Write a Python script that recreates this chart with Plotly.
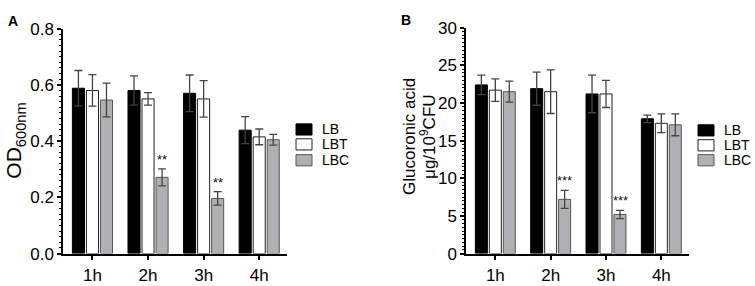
import plotly.graph_objects as go

categories = ["1h", "2h", "3h", "4h"]
series_names = ["LB", "LBT", "LBC"]

# Panel A: OD600nm
od_lb = [0.588, 0.580, 0.570, 0.439]
od_lb_err = [0.063, 0.052, 0.065, 0.048]
od_lbt = [0.580, 0.550, 0.550, 0.415]
od_lbt_err = [0.056, 0.022, 0.065, 0.028]
od_lbc = [0.546, 0.271, 0.196, 0.405]
od_lbc_err = [0.060, 0.030, 0.024, 0.019]
od_sig = ["", "**", "**", ""]

# Panel B: Glucoronic acid
ga_lb = [22.4, 21.9, 21.2, 17.9]
ga_lb_err = [1.3, 2.2, 2.5, 0.5]
ga_lbt = [21.7, 21.5, 21.2, 17.3]
ga_lbt_err = [1.5, 2.9, 1.8, 1.25]
ga_lbc = [21.5, 7.2, 5.2, 17.1]
ga_lbc_err = [1.4, 1.2, 0.55, 1.45]
ga_sig = ["", "***", "***", ""]

FONT = "Liberation Sans, Arial, sans-serif"
W, H = 755, 286
fills = ["#000000", "#ffffff", "#b0b0b4"]
lines = ["#000000", "#222222", "#555555"]

fig = go.Figure()

panelA = [(od_lb, od_lb_err), (od_lbt, od_lbt_err), (od_lbc, od_lbc_err)]
panelB = [(ga_lb, ga_lb_err), (ga_lbt, ga_lbt_err), (ga_lbc, ga_lbc_err)]

for i, (vals, errs) in enumerate(panelA):
    fig.add_trace(go.Bar(
        x=categories, y=vals, name=series_names[i], xaxis="x", yaxis="y",
        marker=dict(color=fills[i], line=dict(color=lines[i], width=1)),
        error_y=dict(type="data", array=errs, color="#444444", thickness=1.3, width=4),
        showlegend=False,
    ))
for i, (vals, errs) in enumerate(panelB):
    fig.add_trace(go.Bar(
        x=categories, y=vals, name=series_names[i], xaxis="x2", yaxis="y2",
        marker=dict(color=fills[i], line=dict(color=lines[i], width=1)),
        error_y=dict(type="data", array=errs, color="#444444", thickness=1.3, width=4),
        showlegend=False,
    ))

annotations = []
shapes = []
for cat, v, e, s in zip(categories, od_lbc, od_lbc_err, od_sig):
    if s:
        annotations.append(dict(x=cat, y=v + e, xref="x", yref="y", text=s, showarrow=False,
                                xshift=14, yanchor="bottom", yshift=0,
                                font=dict(family=FONT, size=13, color="#111")))
for cat, v, e, s in zip(categories, ga_lbc, ga_lbc_err, ga_sig):
    if s:
        annotations.append(dict(x=cat, y=v + e, xref="x2", yref="y2", text=s, showarrow=False,
                                xshift=14, yanchor="bottom", yshift=0,
                                font=dict(family=FONT, size=13, color="#111")))

# legends (one per panel), drawn as swatches + labels
for lx, row_ys in [(296, [129, 145, 162]), (698, [130, 146, 162])]:
    for i, ry in enumerate(row_ys):
        shapes.append(dict(type="rect", xref="paper", yref="paper",
                           x0=lx / W, x1=(lx + 16) / W, y0=1 - (ry + 6) / H, y1=1 - (ry - 6) / H,
                           fillcolor=fills[i], line=dict(color=lines[i], width=1)))
        annotations.append(dict(x=(lx + 24) / W, y=1 - ry / H, xref="paper", yref="paper",
                                text=series_names[i], showarrow=False, xanchor="left",
                                yanchor="middle",
                                font=dict(family=FONT, size=14, color="black")))

annotations.append(dict(x=13 / W, y=1 - 13 / H, xref="paper", yref="paper", text="<b>A</b>",
                        showarrow=False, xanchor="center", yanchor="middle",
                        font=dict(family=FONT, size=14, color="black")))
annotations.append(dict(x=406 / W, y=1 - 12 / H, xref="paper", yref="paper", text="<b>B</b>",
                        showarrow=False, xanchor="center", yanchor="middle",
                        font=dict(family=FONT, size=14, color="black")))
annotations.append(dict(x=15 / W, y=1 - 141 / H, xref="paper", yref="paper",
                        text="OD<sub>600nm</sub>", textangle=-90, showarrow=False,
                        xanchor="center", yanchor="middle",
                        font=dict(family=FONT, size=21, color="black")))
annotations.append(dict(x=410 / W, y=1 - 137 / H, xref="paper", yref="paper",
                        text="Glucoronic acid", textangle=-90, showarrow=False,
                        xanchor="center", yanchor="middle",
                        font=dict(family=FONT, size=17, color="black")))
annotations.append(dict(x=428 / W, y=1 - 137 / H, xref="paper", yref="paper",
                        text="μg/10<sup>9</sup>CFU", textangle=-90, showarrow=False,
                        xanchor="center", yanchor="middle",
                        font=dict(family=FONT, size=17, color="black")))

xcommon = dict(type="category", range=[-0.53, 3.5], showline=True, linecolor="black", linewidth=1.5,
               ticks="outside", ticklen=5, tickwidth=1.5, tickcolor="black",
               tickfont=dict(family=FONT, size=17, color="black"), showgrid=False, zeroline=False,
               fixedrange=True)
ycommon = dict(showline=True, linecolor="black", linewidth=1.5, ticks="outside", ticklen=4,
               tickwidth=1.5, tickcolor="black", tickfont=dict(family=FONT, size=17, color="black"),
               showgrid=False, zeroline=False, fixedrange=True)

fig.update_layout(
    width=W, height=H, margin=dict(l=0, r=0, t=0, b=0),
    paper_bgcolor="white", plot_bgcolor="white",
    barmode="group", bargap=0.243, bargroupgap=0.14,
    xaxis=dict(domain=[63 / W, 287 / W], anchor="y", **xcommon),
    yaxis=dict(domain=[(H - 262) / H, (H - 21) / H], anchor="x", range=[0, 0.8], dtick=0.2,
               tickformat=".1f",
               minor=dict(dtick=0.02, ticks="outside", ticklen=2, tickcolor="black", tickwidth=1),
               **ycommon),
    xaxis2=dict(domain=[466 / W, 689 / W], anchor="y2", **xcommon),
    yaxis2=dict(domain=[(H - 262) / H, (H - 20) / H], anchor="x2", range=[0, 30], dtick=5,
                minor=dict(dtick=0.5, ticks="outside", ticklen=2, tickcolor="black", tickwidth=1),
                **ycommon),
    annotations=annotations,
    shapes=shapes,
    showlegend=False,
)

fig.write_html("out.html", config={"displayModeBar": False},
               post_script="document.body.style.margin='0';document.body.style.overflow='hidden';")
